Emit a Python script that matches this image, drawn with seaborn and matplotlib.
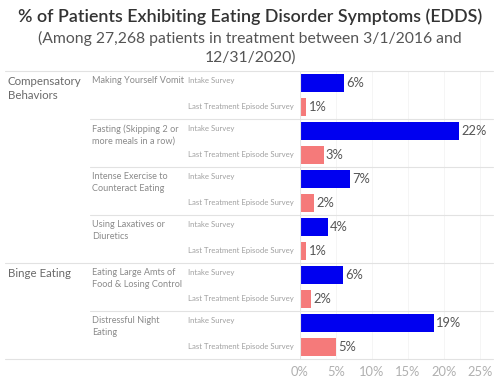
import pandas as pd
import numpy as np
import matplotlib
matplotlib.use('Agg')
import matplotlib.pyplot as plt
import matplotlib.transforms as mtransforms
import seaborn as sns

# dados
grupos = ['Compensatory\nBehaviors', 'Compensatory\nBehaviors', 'Compensatory\nBehaviors',
          'Compensatory\nBehaviors', 'Binge Eating', 'Binge Eating']
sintomas = ['Making Yourself Vomit', 'Fasting (Skipping 2 or\nmore meals in a row)',
            'Intense Exercise to\nCounteract Eating', 'Using Laxatives or\nDiuretics',
            'Eating Large Amts of\nFood & Losing Control', 'Distressful Night\nEating']
pesquisas = ['Intake Survey', 'Last Treatment Episode Survey']
intake = [6.1, 22.1, 7.0, 3.9, 6.0, 18.6]
ultima = [0.9, 3.3, 2.0, 0.9, 1.5, 5.0]
rotulos = ['6%', '22%', '7%', '4%', '6%', '19%']
rotulos_ultima = ['1%', '3%', '2%', '1%', '2%', '5%']
ticks = [0, 5, 10, 15, 20, 25]

linhas = []
for i, s in enumerate(sintomas):
    linhas.append({'linha': f'{i}a', 'pesquisa': pesquisas[0], 'valor': intake[i], 'rot': rotulos[i]})
    linhas.append({'linha': f'{i}b', 'pesquisa': pesquisas[1], 'valor': ultima[i], 'rot': rotulos_ultima[i]})
df = pd.DataFrame(linhas)

sns.set_theme(style='white')
plt.rcParams['font.family'] = ['Lato', 'DejaVu Sans']

fig = plt.figure(figsize=(5, 3.84), dpi=100)
W, H = 500, 384
top, bottom = 71, 359
ax = fig.add_axes([300 / W, 1 - bottom / H, 193 / W, (bottom - top) / H])

sns.barplot(data=df, x='valor', y='linha', hue='pesquisa', orient='h', dodge=False,
            palette={pesquisas[0]: '#0000f0', pesquisas[1]: '#f57a7a'}, saturation=1,
            width=0.74, ax=ax, legend=False, edgecolor='none')

for i, row in df.iterrows():
    ax.text(row['valor'] + 0.3, i, row['rot'], va='center', ha='left',
            fontsize=9.3, color='#555555')

ax.set_xlim(0, 26.8)
ax.set_ylim(len(df) - 0.5, -0.5)
ax.set_xticks(ticks)
ax.set_xticklabels([f'{t}%' for t in ticks], fontsize=9.3, color='#b0b0b0')
ax.tick_params(axis='x', length=0, pad=5)
ax.set_yticks([])
ax.set_xlabel('')
ax.set_ylabel('')
for sp in ax.spines.values():
    sp.set_visible(False)
ax.axvline(0, color='#e6e6e6', lw=0.8)
for t in ticks[1:]:
    ax.axvline(t, color='#f4f4f4', lw=0.6, zorder=0)

# textos e linhas da esquerda (x em pixels da figura, y em dados)
trans = mtransforms.blended_transform_factory(fig.transFigure, ax.transData)
for i, s in enumerate(sintomas):
    y0 = 2 * i - 0.5
    ax.text(188 / W, 2 * i - 0.1, pesquisas[0], transform=trans, fontsize=5.6, color='#a0a0a0',
            va='center', ha='left')
    ax.text(188 / W, 2 * i + 1, pesquisas[1], transform=trans, fontsize=5.6, color='#a0a0a0',
            va='center', ha='left')
    ax.text(92 / W, y0 + 0.22, s, transform=trans, fontsize=6.6, color='#8a8a8a',
            va='top', ha='left', linespacing=1.35)
    if i == 0 or grupos[i] != grupos[i - 1]:
        ax.text(8 / W, y0 + 0.22, grupos[i], transform=trans, fontsize=8.3, color='#6a6a6a',
                va='top', ha='left', linespacing=1.3)
        x_ini = 5 / W
    else:
        x_ini = 90 / W
    ax.plot([x_ini, 493 / W], [y0, y0], transform=trans, color='#e2e2e2', lw=0.8,
            clip_on=False)
ax.plot([5 / W, 493 / W], [len(df) - 0.5] * 2, transform=trans, color='#e2e2e2', lw=0.8,
        clip_on=False)

fig.text(0.5, 1 - 17 / H, '% of Patients Exhibiting Eating Disorder Symptoms (EDDS)',
         ha='center', va='center', fontsize=12.9, color='#333333', fontweight='semibold')
fig.text(0.5, 1 - 38 / H, '(Among 27,268 patients in treatment between 3/1/2016 and',
         ha='center', va='center', fontsize=11.3, color='#555555')
fig.text(0.5, 1 - 58 / H, '12/31/2020)',
         ha='center', va='center', fontsize=11.3, color='#555555')

fig.savefig('out.png', dpi=100)
